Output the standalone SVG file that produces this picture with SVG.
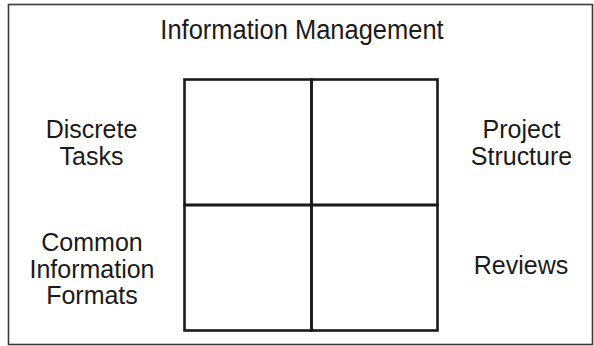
<svg xmlns="http://www.w3.org/2000/svg" width="594" height="346" viewBox="0 0 594 346">
<style>
text{font-family:"Liberation Sans",Arial,Helvetica,sans-serif;font-size:25px;fill:#1a1a1a;text-anchor:middle}
.frame{fill:#fff;stroke:#3a3a3a;stroke-width:1.6}
.cell{fill:none;stroke:#1a1a1a;stroke-width:2.6}
.s{transform:scale(1,1.05)}
</style>
<rect class="frame" x="8.5" y="4.5" width="584" height="340"/>
<g id="title"><g class="s"><text x="302" y="37.6" style="font-size:25.5px">Information Management</text></g></g>
<g id="grid">
<rect class="cell" x="184.5" y="79.5" width="127" height="125.5"/>
<rect class="cell" x="311.5" y="79.5" width="126" height="125.5"/>
<rect class="cell" x="184.5" y="205" width="127" height="125.5"/>
<rect class="cell" x="311.5" y="205" width="126" height="125.5"/>
</g>
<g id="discrete-tasks"><g class="s"><text x="91.5" y="131.9">Discrete</text><text x="91.5" y="157.1">Tasks</text></g></g>
<g id="common-information-formats"><g class="s"><text x="92" y="238.6">Common</text><text x="92" y="264.3">Information</text><text x="92" y="289.5">Formats</text></g></g>
<g id="project-structure"><g class="s"><text x="521.5" y="131.9">Project</text><text x="521.5" y="157.1">Structure</text></g></g>
<g id="reviews"><g class="s"><text x="521" y="261">Reviews</text></g></g>
<g id="connectors"></g>
</svg>
